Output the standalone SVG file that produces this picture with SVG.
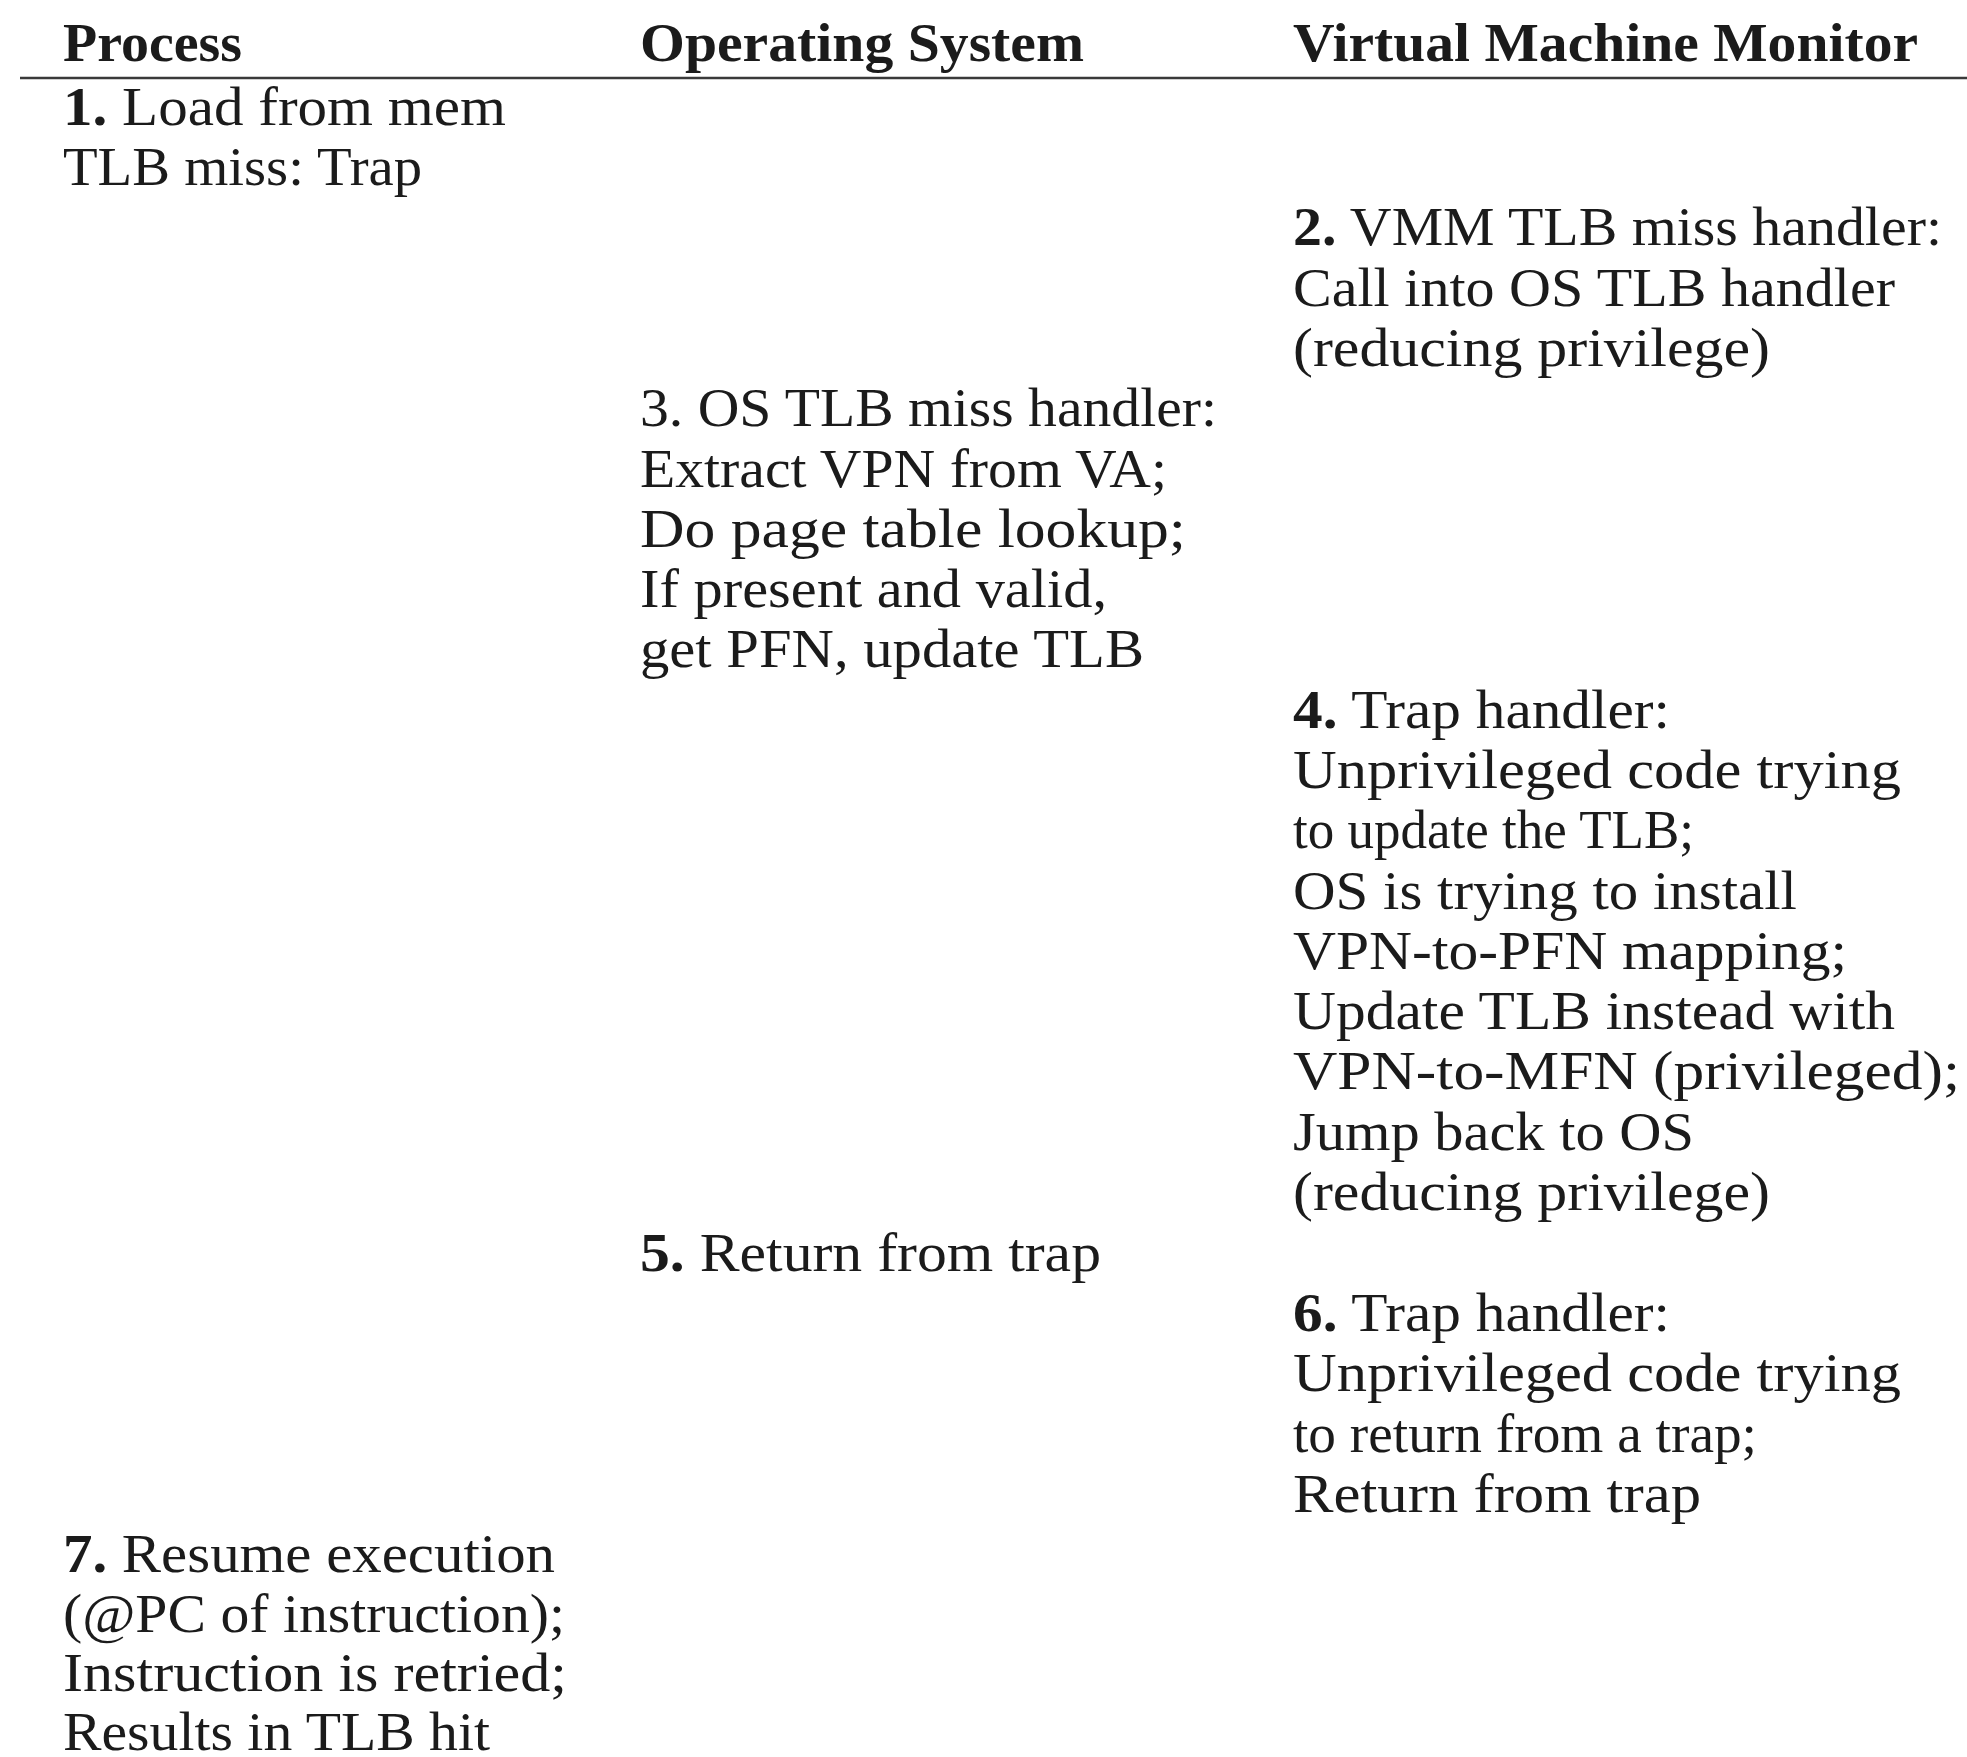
<svg xmlns="http://www.w3.org/2000/svg" width="1967" height="1757" viewBox="0 0 1967 1757">
  <style>
    text { font-family: "Liberation Serif", "DejaVu Serif", serif; font-size: 54px; fill: #1b1b1b; }
    .hd { font-weight: bold; }
    .num { font-weight: bold; }
    .rule { stroke: #3a3a3a; stroke-width: 2.5; }
  </style>
  <rect width="1967" height="1757" fill="#ffffff"/>

  <!-- column headings -->
  <g id="headers">
    <text class="hd" x="63" y="61" textLength="179" lengthAdjust="spacingAndGlyphs">Process</text>
    <text class="hd" x="640" y="61" textLength="444" lengthAdjust="spacingAndGlyphs">Operating System</text>
    <text class="hd" x="1293" y="61" textLength="625" lengthAdjust="spacingAndGlyphs">Virtual Machine Monitor</text>
    <line class="rule" x1="20" y1="78" x2="1967" y2="78"/>
  </g>

  <!-- step 1: process -->
  <g id="step1">
    <text x="63" y="125" textLength="443" lengthAdjust="spacingAndGlyphs"><tspan class="num">1.</tspan> Load from mem</text>
    <text x="63" y="185" textLength="359" lengthAdjust="spacingAndGlyphs">TLB miss: Trap</text>
  </g>

  <!-- step 2: VMM -->
  <g id="step2">
    <text x="1293" y="245" textLength="649" lengthAdjust="spacingAndGlyphs"><tspan class="num">2.</tspan> VMM TLB miss handler:</text>
    <text x="1293" y="306" textLength="602" lengthAdjust="spacingAndGlyphs">Call into OS TLB handler</text>
    <text x="1293" y="366" textLength="477" lengthAdjust="spacingAndGlyphs">(reducing privilege)</text>
  </g>

  <!-- step 3: OS -->
  <g id="step3">
    <text x="640" y="426" textLength="577" lengthAdjust="spacingAndGlyphs">3. OS TLB miss handler:</text>
    <text x="640" y="487" textLength="527" lengthAdjust="spacingAndGlyphs">Extract VPN from VA;</text>
    <text x="640" y="547" textLength="546" lengthAdjust="spacingAndGlyphs">Do page table lookup;</text>
    <text x="640" y="607" textLength="467" lengthAdjust="spacingAndGlyphs">If present and valid,</text>
    <text x="640" y="667" textLength="504" lengthAdjust="spacingAndGlyphs">get PFN, update TLB</text>
  </g>

  <!-- step 4: VMM -->
  <g id="step4">
    <text x="1293" y="728" textLength="377" lengthAdjust="spacingAndGlyphs"><tspan class="num">4.</tspan> Trap handler:</text>
    <text x="1293" y="788" textLength="608" lengthAdjust="spacingAndGlyphs">Unprivileged code trying</text>
    <text x="1293" y="848" textLength="401" lengthAdjust="spacingAndGlyphs">to update the TLB;</text>
    <text x="1293" y="909" textLength="504" lengthAdjust="spacingAndGlyphs">OS is trying to install</text>
    <text x="1293" y="969" textLength="554" lengthAdjust="spacingAndGlyphs">VPN-to-PFN mapping;</text>
    <text x="1293" y="1029" textLength="602" lengthAdjust="spacingAndGlyphs">Update TLB instead with</text>
    <text x="1293" y="1089" textLength="667" lengthAdjust="spacingAndGlyphs">VPN-to-MFN (privileged);</text>
    <text x="1293" y="1150" textLength="401" lengthAdjust="spacingAndGlyphs">Jump back to OS</text>
    <text x="1293" y="1210" textLength="477" lengthAdjust="spacingAndGlyphs">(reducing privilege)</text>
  </g>

  <!-- step 5: OS -->
  <g id="step5">
    <text x="640" y="1271" textLength="461" lengthAdjust="spacingAndGlyphs"><tspan class="num">5.</tspan> Return from trap</text>
  </g>

  <!-- step 6: VMM -->
  <g id="step6">
    <text x="1293" y="1331" textLength="377" lengthAdjust="spacingAndGlyphs"><tspan class="num">6.</tspan> Trap handler:</text>
    <text x="1293" y="1391" textLength="608" lengthAdjust="spacingAndGlyphs">Unprivileged code trying</text>
    <text x="1293" y="1452" textLength="464" lengthAdjust="spacingAndGlyphs">to return from a trap;</text>
    <text x="1293" y="1512" textLength="408" lengthAdjust="spacingAndGlyphs">Return from trap</text>
  </g>

  <!-- step 7: process -->
  <g id="step7">
    <text x="63" y="1572" textLength="492" lengthAdjust="spacingAndGlyphs"><tspan class="num">7.</tspan> Resume execution</text>
    <text x="63" y="1632" textLength="502" lengthAdjust="spacingAndGlyphs">(@PC of instruction);</text>
    <text x="63" y="1691" textLength="504" lengthAdjust="spacingAndGlyphs">Instruction is retried;</text>
    <text x="63" y="1750" textLength="427" lengthAdjust="spacingAndGlyphs">Results in TLB hit</text>
  </g>

  <!-- no connectors in this table -->
  <g id="connectors"/>
</svg>
